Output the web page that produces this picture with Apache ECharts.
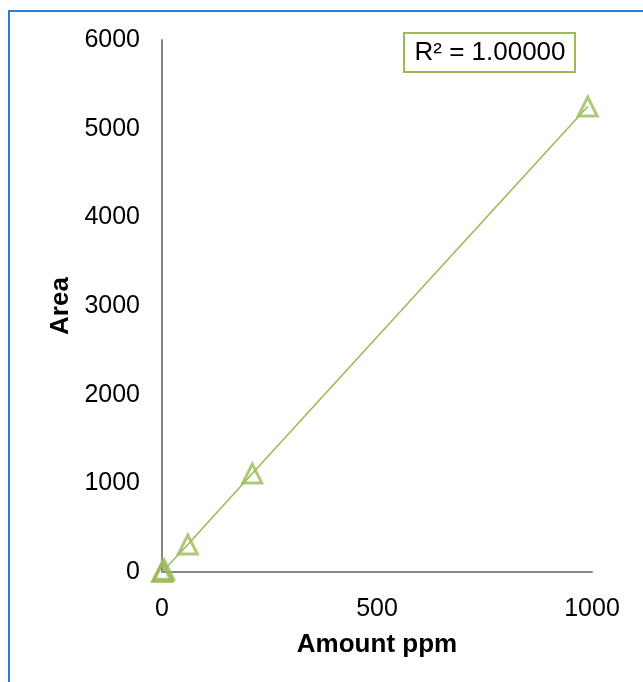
<!DOCTYPE html>
<html>
<head>
<meta charset="utf-8">
<script src="https://cdn.jsdelivr.net/npm/echarts@6/dist/echarts.min.js"></script>
<style>
  html, body { margin: 0; padding: 0; background: #fff; overflow: hidden; }
  #frame {
    position: absolute; left: 8px; top: 10px; width: 700px; height: 700px;
    border-left: 2px solid #2E7CD0; border-top: 2px solid #2E7CD0;
  }
  #chart { position: absolute; left: 0; top: 0; width: 643px; height: 682px; }
</style>
</head>
<body>
<div id="frame"></div>
<div id="chart"></div>
<script>
// calibration points
const amount = [0, 2, 5, 60, 210, 990];
const area = [0, 10, 26, 310, 1110, 5250];
const xTicks = [0, 500, 1000];
const yTicks = [0, 1000, 2000, 3000, 4000, 5000, 6000];
const r2Label = 'R² = 1.00000';

const green = '#9BBB59';
const font = 'Liberation Sans, Arial, sans-serif';

const points = amount.map((x, i) => [x, area[i]]);

const chart = echarts.init(document.getElementById('chart'));

chart.setOption({
  animation: false,
  grid: { left: 162, right: 51, top: 40, bottom: 110, containLabel: false },
  xAxis: {
    type: 'value',
    min: xTicks[0], max: xTicks[xTicks.length - 1], interval: 500,
    name: 'Amount ppm', nameLocation: 'middle', nameGap: 60,
    nameTextStyle: { fontFamily: font, fontSize: 26, fontWeight: 'bold', color: '#000' },
    axisLine: { lineStyle: { color: '#868686', width: 2 } },
    axisTick: { show: false },
    splitLine: { show: false },
    axisLabel: { fontFamily: font, fontSize: 25, color: '#000', margin: 25, formatter: v => String(v) }
  },
  yAxis: {
    type: 'value',
    min: yTicks[0], max: yTicks[yTicks.length - 1], interval: 1000,
    name: 'Area', nameLocation: 'middle', nameGap: 88,
    nameTextStyle: { fontFamily: font, fontSize: 26, fontWeight: 'bold', color: '#000' },
    axisLine: { show: true, lineStyle: { color: '#868686', width: 2 } },
    axisTick: { show: false },
    splitLine: { show: false },
    axisLabel: { fontFamily: font, fontSize: 25, color: '#000', margin: 22, formatter: v => String(v) }
  },
  series: [
    {
      // linear trendline
      type: 'line',
      data: points,
      symbol: 'none',
      lineStyle: { color: green, width: 1.6 },
      z: 1
    },
    {
      type: 'scatter',
      data: points,
      symbol: 'triangle',
      symbolSize: [19, 19],
      itemStyle: { color: 'rgba(255,255,255,0)', borderColor: green, borderWidth: 3 },
      z: 2
    }
  ],
  graphic: [
    {
      type: 'rect',
      shape: { x: 404, y: 33, width: 171, height: 39 },
      style: { fill: '#fff', stroke: green, lineWidth: 2 }
    },
    {
      type: 'text',
      x: 490, y: 53,
      style: {
        text: r2Label, fontFamily: font, fontSize: 26, fill: '#000',
        align: 'center', verticalAlign: 'middle'
      }
    }
  ]
});
</script>
</body>
</html>
